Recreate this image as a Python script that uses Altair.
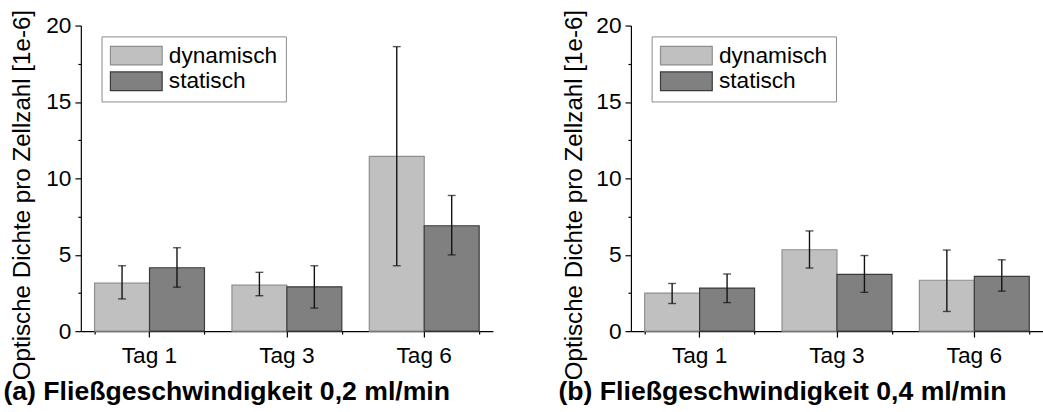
import altair as alt
import pandas as pd

FONT = "Liberation Sans"

days = ["Tag 1", "Tag 3", "Tag 6"]
series = ["dynamisch", "statisch"]

# Panel (a) 0,2 ml/min
a_dyn = [3.14, 3.01, 11.44]
a_dyn_lo = [2.11, 2.32, 4.28]
a_dyn_hi = [4.28, 3.85, 18.62]
a_stat = [4.15, 2.90, 6.90]
a_stat_lo = [2.88, 1.51, 4.99]
a_stat_hi = [5.46, 4.28, 8.88]

# Panel (b) 0,4 ml/min
b_dyn = [2.49, 5.33, 3.33]
b_dyn_lo = [1.81, 4.13, 1.29]
b_dyn_hi = [3.12, 6.56, 5.31]
b_stat = [2.82, 3.72, 3.59]
b_stat_lo = [1.87, 2.54, 2.62]
b_stat_hi = [3.74, 4.95, 4.67]

y_values = [0, 2.5, 5, 7.5, 10, 12.5, 15, 17.5, 20]
fill_colors = ["#c0c0c0", "#808080"]
stroke_colors = ["#8e8e8e", "#3a3a3a"]


def frame(dyn, dyn_lo, dyn_hi, stat, stat_lo, stat_hi):
    rows = []
    for i, d in enumerate(days):
        rows.append(dict(tag=d, serie=series[0], val=dyn[i], lo=dyn_lo[i], hi=dyn_hi[i]))
        rows.append(dict(tag=d, serie=series[1], val=stat[i], lo=stat_lo[i], hi=stat_hi[i]))
    return pd.DataFrame(rows)


def panel(df, subtitle, ytitle_x, sub_x):
    x_scale = alt.Scale(domain=days, paddingInner=0.2, paddingOuter=0.1)
    xo = alt.XOffset("serie:N", scale=alt.Scale(domain=series, paddingInner=0, paddingOuter=0))
    y_scale = alt.Scale(domain=[0, 20], nice=False, zero=True)
    y_axis = alt.Axis(
        values=y_values,
        labelExpr="datum.value % 5 === 0 ? datum.label : ''",
        tickSize={"condition": {"test": "datum.value % 5 === 0", "value": 6}, "value": 3},
        tickColor="black", tickWidth=1.2, domainColor="black", domainWidth=1.2,
        labelFont=FONT, labelFontSize=23, labelColor="black", labelPadding=4,
        grid=False,
        title="Optische Dichte pro Zellzahl [1e-6]",
        titleFont=FONT, titleFontSize=24.5, titleFontWeight="normal", titleColor="black",
        titleX=ytitle_x, titleY=171.5, titleAlign="center", titleBaseline="middle",
        titleAngle=270,
    )
    x_axis_main = alt.Axis(
        orient="bottom", labelAngle=0, labelFont=FONT, labelFontSize=23, labelColor="black",
        labelPadding=8, tickSize=6, tickColor="black", tickWidth=1.2,
        domainColor="black", domainWidth=1.2, grid=False,
        title=subtitle, titleFont=FONT, titleFontSize=27, titleFontWeight="bold",
        titleColor="black", titleX=sub_x, titleY=61, titleAlign="left",
        titleAnchor="start", titleBaseline="middle",
    )
    x_axis_minor = alt.Axis(
        orient="bottom", tickBand="extent", labels=False, domain=False,
        tickSize=3, tickColor="black", tickWidth=1.2, grid=False, title=None,
    )
    leg = alt.Legend(
        title=None, orient="none", legendX=21, legendY=11,
        symbolType="M-2.5,-0.9H2.5V0.9H-2.5Z", symbolSize=441,
        symbolOffset=15.75, labelOffset=21.5, symbolStrokeWidth=1.2,
        labelFont=FONT, labelFontSize=23, labelColor="black",
        strokeColor="#8a8a8a", fillColor="white", padding=8, rowPadding=1,
    )
    bars = alt.Chart(df).mark_bar(strokeWidth=1.2).encode(
        x=alt.X("tag:N", scale=x_scale, sort=days, axis=x_axis_main),
        xOffset=xo,
        y=alt.Y("val:Q", scale=y_scale, axis=y_axis),
        fill=alt.Fill("serie:N", scale=alt.Scale(domain=series, range=fill_colors), legend=leg),
        stroke=alt.Stroke("serie:N", scale=alt.Scale(domain=series, range=stroke_colors), legend=leg),
    )
    rules = alt.Chart(df).mark_rule(color="#111111", strokeWidth=1.4).encode(
        x=alt.X("tag:N", scale=x_scale, sort=days, axis=x_axis_minor),
        xOffset=xo,
        y=alt.Y("lo:Q", scale=y_scale, axis=y_axis),
        y2="hi:Q",
    )
    cap_hi = alt.Chart(df).mark_tick(color="#111111", size=8, thickness=1.4).encode(
        x=alt.X("tag:N", scale=x_scale, sort=days, axis=None),
        xOffset=xo,
        y=alt.Y("hi:Q", scale=y_scale, axis=y_axis),
    )
    cap_lo = alt.Chart(df).mark_tick(color="#111111", size=8, thickness=1.4).encode(
        x=alt.X("tag:N", scale=x_scale, sort=days, axis=None),
        xOffset=xo,
        y=alt.Y("lo:Q", scale=y_scale, axis=y_axis),
    )
    return alt.layer(bars, rules, cap_hi, cap_lo).resolve_axis(x="independent").properties(
        width=418, height=310
    )


pa = panel(frame(a_dyn, a_dyn_lo, a_dyn_hi, a_stat, a_stat_lo, a_stat_hi),
           "(a) Fließgeschwindigkeit 0,2 ml/min", -59, -79)
pb = panel(frame(b_dyn, b_dyn_lo, b_dyn_hi, b_stat, b_stat_lo, b_stat_hi),
           "(b) Fließgeschwindigkeit 0,4 ml/min", -57, -74)

chart = alt.hconcat(pa, pb, spacing=66).resolve_scale(
    fill="independent", stroke="independent"
).properties(
    padding={"left": 3, "top": 6, "right": 0, "bottom": 0},
    background="white",
).configure_view(stroke=None)

chart.save("out.html", embed_options={"renderer": "svg", "actions": False})
